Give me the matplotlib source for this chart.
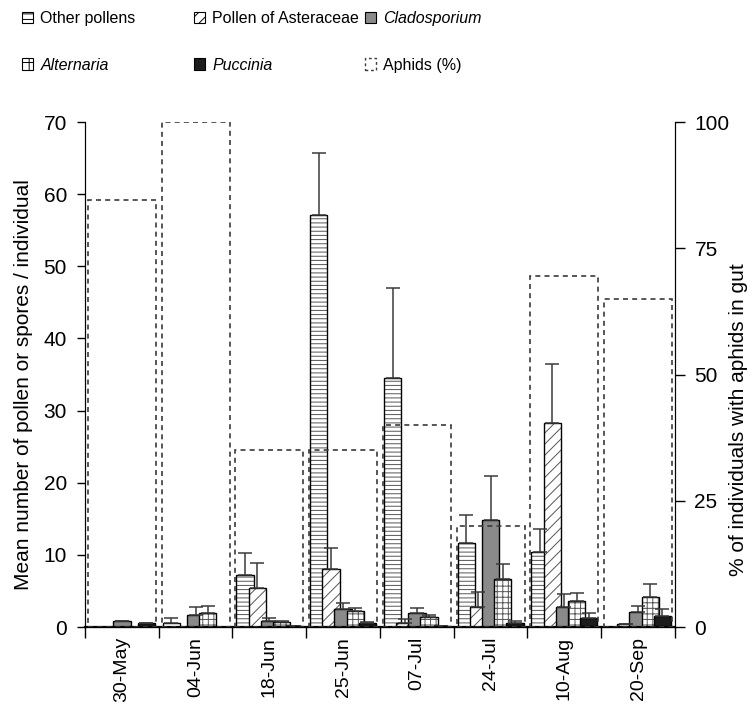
import numpy as np
import matplotlib
matplotlib.use("Agg")
import matplotlib.pyplot as plt
from matplotlib import font_manager
from matplotlib.patches import Patch

plt.rcParams['font.family'] = ['Liberation Sans', 'DejaVu Sans']
plt.rcParams['hatch.linewidth'] = 0.7

# legend text is set in a narrow face when one is installed
try:
    font_manager.findfont('Liberation Sans Narrow', fallback_to_default=False)
    legend_family = ['Liberation Sans Narrow', 'DejaVu Sans']
    legend_size = 14
except ValueError:
    legend_family = ['Liberation Sans', 'DejaVu Sans']
    legend_size = 11.5

dates = ['30-May', '04-Jun', '18-Jun', '25-Jun', '07-Jul', '24-Jul', '10-Aug', '20-Sep']

# mean counts per individual and upper error (mean + SE shown as bar top + whisker)
other_pollens = [0.0, 0.6, 7.2, 57.1, 34.5, 11.6, 10.4, 0.0]
other_err = [0.0, 0.6, 3.0, 8.6, 12.5, 3.9, 3.2, 0.0]
asteraceae = [0.0, 0.0, 5.4, 8.0, 0.5, 2.8, 28.3, 0.4]
asteraceae_err = [0.0, 0.0, 3.5, 3.0, 0.6, 2.0, 8.1, 0.0]
cladosporium = [0.8, 1.7, 0.8, 2.5, 1.9, 14.8, 2.8, 2.1]
cladosporium_err = [0.0, 1.1, 0.4, 0.8, 0.7, 6.2, 1.8, 0.8]
alternaria = [0.0, 1.9, 0.7, 2.2, 1.4, 6.7, 3.6, 4.2]
alternaria_err = [0.0, 1.0, 0.2, 0.4, 0.2, 2.0, 1.1, 1.8]
puccinia = [0.5, 0.0, 0.2, 0.5, 0.1, 0.6, 1.2, 1.5]
puccinia_err = [0.0, 0.0, 0.0, 0.2, 0.0, 0.2, 0.7, 1.0]

# percentage of individuals with aphid remains in the gut
aphids = [84.6, 100, 35, 35, 40, 20, 69.5, 65]

HATCH_GREY = '#555555'
series = [
    (other_pollens, other_err, 'white', '----'),
    (asteraceae, asteraceae_err, 'white', '///'),
    (cladosporium, cladosporium_err, '#8a8a8a', None),
    (alternaria, alternaria_err, 'white', '+++'),
    (puccinia, puccinia_err, '#1c1c1c', None),
]

fig = plt.figure(figsize=(7.54, 7.11), dpi=100)
ax = fig.add_axes([0.1127, 0.1181, 0.7825, 0.7103])

centers = np.arange(len(dates)) + 0.5
step = 0.165
width = 0.235
for k, (vals, errs, face, hatch) in enumerate(series):
    x = centers + (k - 2) * step
    if hatch:
        # grey hatch inside, black outline on top
        ax.bar(x, vals, width=width, facecolor=face, edgecolor=HATCH_GREY,
               hatch=hatch, linewidth=0)
        ax.bar(x, vals, width=width, fill=False, edgecolor='black', linewidth=1.0)
    else:
        ax.bar(x, vals, width=width, facecolor=face, edgecolor='black', linewidth=1.0)
    ax.errorbar(x, vals, yerr=[np.zeros(len(errs)), errs], fmt='none',
                ecolor='#3a3a3a', elinewidth=1.1, capsize=5, capthick=1.1)

ax.set_xlim(0, len(dates))
ax.set_ylim(0, 70)
ax.set_yticks(np.arange(0, 71, 10))
ax.set_xticks(np.arange(0, len(dates) + 1))
ax.set_xticklabels([])
ax.set_xticks(centers, minor=True)
ax.set_xticklabels(dates, minor=True, rotation=90, fontsize=14)
ax.tick_params(axis='x', which='major', length=8, width=1.0, direction='out')
ax.tick_params(axis='x', which='minor', length=0, pad=7)
ax.tick_params(axis='y', length=6, width=1.0, labelsize=15, pad=7)
ax.spines['top'].set_visible(False)
ax.spines['bottom'].set_linewidth(1.6)
ax.set_ylabel('Mean number of pollen or spores / individual', fontsize=15)
ax.yaxis.set_label_coords(-0.088, 0.48)

ax2 = ax.twinx()
ax2.bar(centers, aphids, width=0.92, fill=False, edgecolor='#3a3a3a',
        linewidth=1.2, linestyle=(0, (3, 2.5)))
ax2.set_ylim(0, 100)
ax2.set_yticks([0, 25, 50, 75, 100])
ax2.tick_params(axis='y', length=7, width=1.0, labelsize=15, pad=7)
ax2.spines['top'].set_visible(False)
ax2.set_ylabel('% of individuals with aphids in gut', fontsize=15)
ax2.yaxis.set_label_coords(1.092, 0.41)

# legend in three columns across the top
handles = [
    Patch(facecolor='white', edgecolor='black', hatch='---', linewidth=0.8),
    Patch(facecolor='white', edgecolor='black', hatch='///', linewidth=0.8),
    Patch(facecolor='#8a8a8a', edgecolor='black', linewidth=0.8),
    Patch(facecolor='white', edgecolor='black', hatch='++', linewidth=0.8),
    Patch(facecolor='#1c1c1c', edgecolor='black', linewidth=0.8),
    Patch(fill=False, edgecolor='#3a3a3a', linestyle=(0, (2, 2)), linewidth=1.0),
]
labels = ['Other pollens', 'Pollen of Asteraceae', 'Cladosporium',
          'Alternaria', 'Puccinia', 'Aphids (%)']
italic = {'Cladosporium', 'Alternaria', 'Puccinia'}
col_x = [22 / 754, 194 / 754, 365 / 754]
for c in range(3):
    leg = fig.legend([handles[c], handles[c + 3]], [labels[c], labels[c + 3]],
                     loc='upper left', bbox_to_anchor=(col_x[c], 0.984),
                     frameon=False, prop={'family': legend_family, 'size': legend_size},
                     handlelength=0.7, handleheight=0.7, handletextpad=0.45,
                     labelspacing=1.95, borderaxespad=0, borderpad=0)
    for t in leg.get_texts():
        if t.get_text() in italic:
            t.set_fontstyle('italic')

fig.savefig('out.png', dpi=100)
